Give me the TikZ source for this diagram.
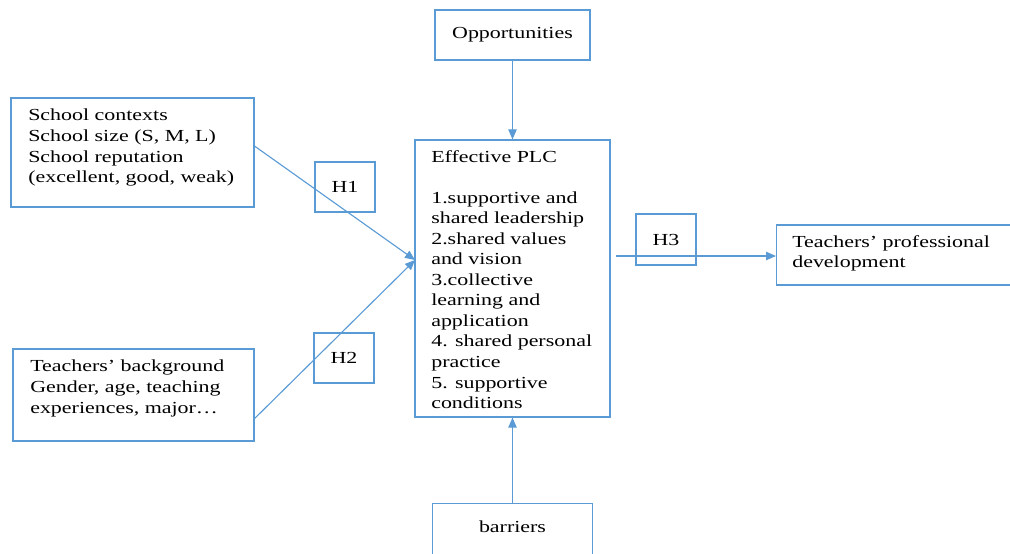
\documentclass[tikz,border=0pt]{standalone}
\usepackage{fontspec}
\setmainfont[FakeStretch=1.3]{Liberation Serif}
\usetikzlibrary{arrows.meta}
\definecolor{wordblue}{RGB}{91,155,213}
\newcommand{\boxfont}{\fontsize{12}{14.6}\selectfont}

\begin{document}
\begin{tikzpicture}[x=0.025cm,y=-0.025cm,
  box/.style={draw=wordblue,line width=0.8pt,inner sep=0pt,font=\boxfont},
  txt/.style={inner sep=0pt,align=left,anchor=north west,font=\boxfont},
  arr/.style={draw=wordblue,line width=0.8pt,-{Triangle[length=2.5mm,width=2.1mm]}}]
\useasboundingbox (0,0) rectangle (1010,553);
% boxes
\node[box,minimum width=3.875cm,minimum height=1.25cm] (opp) at (512.5,35) {Opportunities};
\node[box,minimum width=6.075cm,minimum height=2.725cm] (ctx) at (132.5,152.5) {};
\node[box,minimum width=4.875cm,minimum height=6.925cm] (plc) at (512.5,278.5) {};
\node[box,minimum width=6.025cm,minimum height=2.3cm] (bkg) at (133.5,395) {};
\node[box,minimum width=6.2cm,minimum height=1.5cm,anchor=west] (tpd) at (776,255) {};
\node[box,minimum width=4cm,minimum height=1.5cm,anchor=north] (bar) at (512.5,503) {};
% hypotheses
\node[box,minimum width=1.5cm,minimum height=1.25cm] (h1) at (345,187) {H1};
\node[box,minimum width=1.5cm,minimum height=1.25cm] (h2) at (344,358) {H2};
\node[box,minimum width=1.5cm,minimum height=1.275cm] (h3) at (666,239.5) {H3};
% texts
\node[txt] (ctxtxt) at (28,109) {School contexts\\School size (S, M, L)\\School reputation\\(excellent, good, weak)};
\node[txt] (plctxt) at (431,150) {Effective PLC\\[14.6pt]1.supportive and\\shared leadership\\2.shared values\\and vision\\3.collective\\learning and\\application\\4. shared personal\\practice\\5. supportive\\conditions};
\node[txt] (bkgtxt) at (30,360) {Teachers’ background\\Gender, age, teaching\\experiences, major…};
\node[txt] (tpdtxt) at (792,235) {Teachers’ professional\\development};
\node[font=\boxfont,inner sep=0pt] (bartxt) at (512.5,527) {barriers};
% arrows
\coordinate (plcin) at (415,260);
\coordinate (plcout) at (616,256);
\draw[arr] (opp) -- (plc);
\draw[arr] (ctx.3) -- (plcin);
\draw[arr] (bkg.-11) -- (plcin);
\draw[arr] (plcout) -- (plcout -| tpd.west);
\draw[arr] (bar) -- (plc);
\end{tikzpicture}
\end{document}
